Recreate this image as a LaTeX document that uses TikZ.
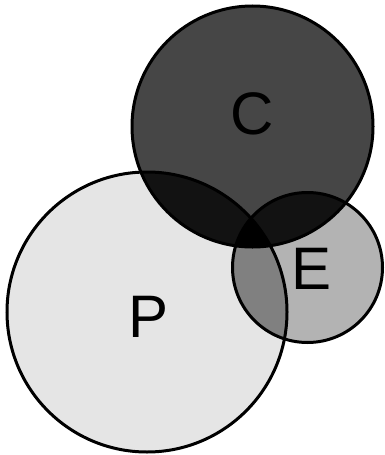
\documentclass[tikz,border=0pt]{standalone}
\usepackage{fontspec}
\setmainfont{Liberation Sans}
\begin{document}
\begin{tikzpicture}[x=1pt,y=-1pt,
  ring/.style={draw=black,line width=3pt},
  lbl/.style={font=\fontsize{60}{60}\selectfont,inner sep=0pt,anchor=center}]
\useasboundingbox (0,0) rectangle (384,455);
\def\circP{(147,312) circle (140)}
\def\circC{(252.5,126.5) circle (120.5)}
\def\circE{(307.5,267.5) circle (75)}
\fill[fill={rgb,255:red,229;green,229;blue,229}] \circP;
\fill[fill={rgb,255:red,179;green,179;blue,179}] \circE;
\fill[fill={rgb,255:red,70;green,70;blue,70}] \circC;
\begin{scope}
  \clip \circP;
  \fill[fill={rgb,255:red,128;green,128;blue,128}] \circE;
  \fill[fill={rgb,255:red,18;green,18;blue,18}] \circC;
\end{scope}
\begin{scope}
  \clip \circC;
  \fill[fill={rgb,255:red,18;green,18;blue,18}] \circE;
  \clip \circE;
  \fill[black] \circP;
\end{scope}
\draw[ring] \circP;
\draw[ring] \circE;
\draw[ring] \circC;
\node[lbl] (C) at (252,114) {C};
\node[lbl] (P) at (149,317) {P};
\node[lbl] (E) at (312,269) {E};
\end{tikzpicture}
\end{document}
